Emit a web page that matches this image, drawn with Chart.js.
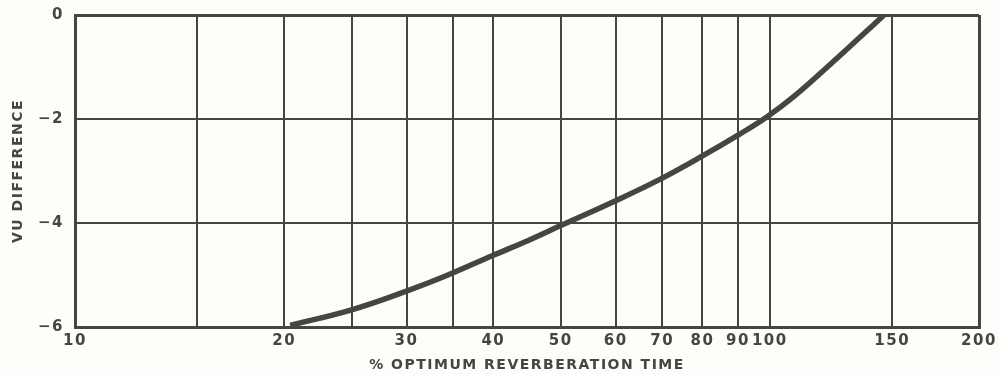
<!DOCTYPE html>
<html>
<head>
<meta charset="utf-8">
<script src="https://cdn.jsdelivr.net/npm/chart.js@4/dist/chart.umd.min.js"></script>
<style>
  html, body { margin: 0; padding: 0; background: #fdfdfa; }
  #wrap { width: 999px; height: 374px; }
</style>
</head>
<body>
<div id="wrap"><canvas id="chart" width="999" height="374"></canvas></div>
<script>
// % of optimum reverberation time vs. VU difference
const reverbPercent = [20.4, 25, 30, 34, 40, 45, 50, 60, 69, 80, 90, 99, 108, 121, 135, 146];
const vuDifference  = [-5.97, -5.67, -5.31, -5.03, -4.62, -4.33, -4.05, -3.57, -3.18, -2.71, -2.31, -1.96, -1.58, -1.0, -0.42, 0];

// grid lines on the log axis and which of them carry a number
const xGridValues  = [10, 15, 20, 25, 30, 35, 40, 50, 60, 70, 80, 90, 100, 150, 200];
const xLabelValues = [10, 20, 30, 40, 50, 60, 70, 80, 90, 100, 150, 200];
const yTickValues  = [0, -2, -4, -6];

const INK = '#45463e';
const FONT = 'DejaVu Sans';

// slightly spaced lettering for all text on the chart
const spacedLettering = {
  id: 'spacedLettering',
  beforeDraw(chart) { chart.ctx.letterSpacing = '1.5px'; }
};

new Chart(document.getElementById('chart'), {
  type: 'line',
  data: {
    datasets: [{
      data: reverbPercent.map((x, i) => ({ x, y: vuDifference[i] })),
      borderColor: INK,
      borderWidth: 5.5,
      pointRadius: 0,
      tension: 0.4,
      fill: false
    }]
  },
  options: {
    responsive: false,
    animation: false,
    layout: { padding: { top: 15, right: 20, left: 0, bottom: 0 } },
    plugins: { legend: { display: false }, tooltip: { enabled: false } },
    scales: {
      x: {
        type: 'logarithmic',
        min: 10,
        max: 200,
        afterBuildTicks(scale) { scale.ticks = xGridValues.map(v => ({ value: v })); },
        afterFit(scale) { scale.height = 47; scale.paddingLeft = 0; scale.paddingRight = 0; },
        ticks: {
          autoSkip: false,
          maxRotation: 0,
          padding: 5,
          color: INK,
          font: { family: FONT, size: 15, weight: 'bold' },
          callback: v => xLabelValues.includes(v) ? String(v) : ''
        },
        grid: {
          color: INK,
          lineWidth: c => (c.tick && (c.tick.value === 10 || c.tick.value === 200)) ? 3 : 2,
          drawTicks: false
        },
        border: { display: true, color: INK, width: 3 },
        title: {
          display: true,
          text: '% OPTIMUM REVERBERATION TIME',
          color: INK,
          font: { family: FONT, size: 14, weight: 'bold' },
          padding: { top: 2, bottom: 0 }
        }
      },
      y: {
        type: 'linear',
        min: -6,
        max: 0,
        afterBuildTicks(scale) { scale.ticks = yTickValues.map(v => ({ value: v })); },
        afterFit(scale) { scale.width = 75; scale.paddingTop = 0; scale.paddingBottom = 0; },
        ticks: {
          padding: 11,
          color: INK,
          font: { family: FONT, size: 15, weight: 'bold' },
          callback: v => (v < 0 ? '\u2212' + Math.abs(v) : String(v))
        },
        grid: {
          color: INK,
          lineWidth: c => (c.tick && (c.tick.value === 0 || c.tick.value === -6)) ? 3 : 2,
          drawTicks: false
        },
        border: { display: true, color: INK, width: 3 },
        title: {
          display: true,
          text: 'VU DIFFERENCE',
          color: INK,
          font: { family: FONT, size: 14, weight: 'bold' },
          padding: { top: 10, bottom: 0 }
        }
      }
    }
  },
  plugins: [spacedLettering]
});
</script>
</body>
</html>
